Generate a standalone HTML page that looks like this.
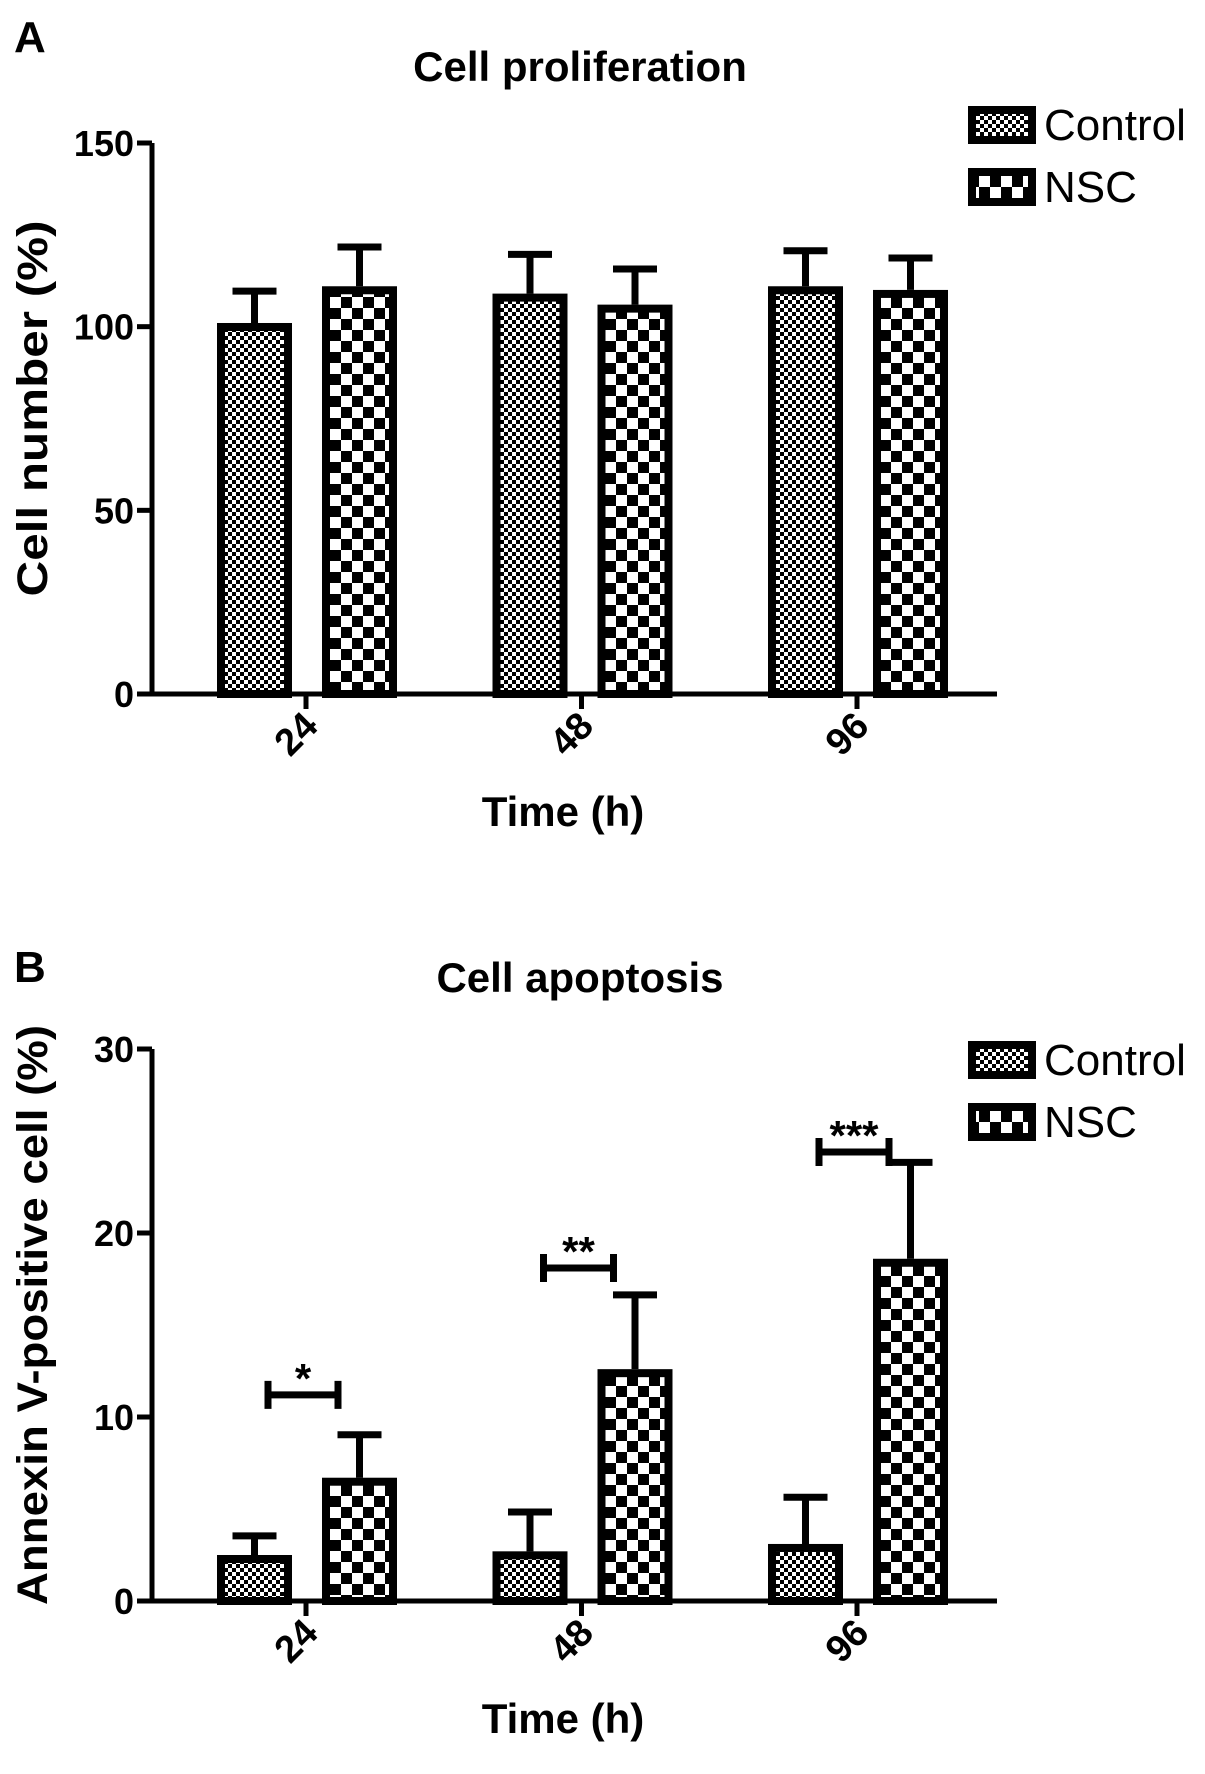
<!DOCTYPE html>
<html><head><meta charset="utf-8"><style>
html,body{margin:0;padding:0;background:#fff;}
svg{display:block;font-family:"Liberation Sans",Arial,sans-serif;}
</style></head><body>
<svg id="fig" width="1205" height="1774" viewBox="0 0 1205 1774" xmlns="http://www.w3.org/2000/svg">
<defs>
<pattern id="pc" width="8" height="8" patternUnits="userSpaceOnUse"><rect width="8" height="8" fill="#fff"/><rect width="4" height="4" fill="#000"/><rect x="4" y="4" width="4" height="4" fill="#000"/></pattern>
<pattern id="pn" width="22" height="22" patternUnits="userSpaceOnUse"><rect width="22" height="22" fill="#fff"/><rect width="11" height="11" fill="#000"/><rect x="11" y="11" width="11" height="11" fill="#000"/></pattern>
</defs>
</svg>
<script>
const categories = ["24","48","96"];
const seriesNames = ["Control","NSC"];
const aControl = [101,109,111];
const aControlErr = [9.5,11.5,10.5];
const aNSC = [111,106,110];
const aNSCErr = [11.5,10.5,9.5];
const aTicks = [0,50,100,150];
const bControl = [2.5,2.7,3.1];
const bControlErr = [1.2,2.3,2.7];
const bNSC = [6.7,12.6,18.6];
const bNSCErr = [2.5,4.2,5.4];
const bTicks = [0,10,20,30];
const bSigHeights = [11.2,18.1,24.4];
const bSigLabels = ["*","**","***"];

const svg = document.getElementById('fig');
const NS = 'http://www.w3.org/2000/svg';
function mk(tag, attrs, parent){const e=document.createElementNS(NS,tag);for(const k in attrs)e.setAttribute(k,attrs[k]);(parent||svg).appendChild(e);return e;}

function panel(o){
  const g = mk('g',{});
  
  
  const x0=152, x1=997;
  const yv = v => o.y0 - (v - 0)/(o.max) * (o.y0 - o.yTop);
  const xc = i => 306 + i*275.5;
  let t=mk('text',{x:14,y:o.letterY,'font-size':44,'font-weight':'bold'},g);t.textContent=o.letter;
  
  
  t=mk('text',{x:580,y:o.titleY,'font-size':42,'font-weight':'bold','text-anchor':'middle'},g);t.textContent=o.title;
  
  
  [[o.c,o.ce,'url(#pc)',-89],[o.n,o.ne,'url(#pn)',16]].forEach((s,si)=>{
    s[0].forEach((v,i)=>{
      const bx=xc(i)+s[3], bw=75, top=yv(v);
      const r=mk('rect',{x:bx+4,y:top+4,width:bw-8,height:o.y0-top-4,fill:s[2],stroke:'#000','stroke-width':8},g);
      
      
      const et=yv(v+s[1][i]), cx=bx+bw/2;
      const l=mk('path',{d:`M${cx} ${top} V${et} M${cx-22} ${et+3} H${cx+22}`,stroke:'#000','stroke-width':7,fill:'none'},g);
      
      
    });
  });
  const ax=mk('path',{d:`M${x0} ${o.yTop} V${o.y0} H${x1}`,stroke:'#000','stroke-width':5,fill:'none'},g);
  
  
  o.ticks.forEach(v=>{
    mk('line',{x1:x0-15,x2:x0,y1:yv(v),y2:yv(v),stroke:'#000','stroke-width':5},g);
    const tt=mk('text',{x:x0-18,y:yv(v)+13,'font-size':36,'font-weight':'bold','text-anchor':'end'},g);tt.textContent=v;
    
    
  });
  categories.forEach((c,i)=>{
    mk('line',{x1:xc(i),x2:xc(i),y1:o.y0,y2:o.y0+15,stroke:'#000','stroke-width':5},g);
    const tt=mk('text',{x:xc(i)+14,y:o.y0+34,'font-size':38,'font-weight':'bold','text-anchor':'end',transform:`rotate(-45 ${xc(i)+14} ${o.y0+34})`},g);tt.textContent=c;
    
    
  });
  t=mk('text',{x:563,y:o.y0+132,'font-size':42,'font-weight':'bold','text-anchor':'middle'},g);t.textContent='Time (h)';
  
  
  const ly=(o.y0+o.yTop)/2 - 10;
  t=mk('text',{x:47,y:ly,'font-size':43,'font-weight':'bold','text-anchor':'middle',transform:`rotate(-90 47 ${ly})`,textLength:o.ylen,lengthAdjust:'spacingAndGlyphs'},g);t.textContent=o.ylabel;
  
  
  ['url(#pc)','url(#pn)'].forEach((f,i)=>{
    const y=o.legY+i*62;
    const r=mk('rect',{x:972,y:y+4,width:60,height:30,fill:f,stroke:'#000','stroke-width':8},g);
    
    
    const tt=mk('text',{x:1044,y:y+34,'font-size':44},g);tt.textContent=seriesNames[i];
    
    
  });
  if(o.sig){
    o.sig.forEach((h,i)=>{
      const y=yv(h), a=xc(i)-38, b=xc(i)+32;
      const p=mk('path',{d:`M${a} ${y} H${b} M${a} ${y-14} V${y+14} M${b} ${y-14} V${y+14}`,stroke:'#000','stroke-width':7,fill:'none'},g);
      
      
      const tt=mk('text',{x:(a+b)/2,y:y-2,'font-size':42,'font-weight':'bold','text-anchor':'middle'},g);tt.textContent=o.sigL[i];
      
      
    });
  }
}
panel({name:'panel-a-cell-proliferation',letter:'A',letterY:52,title:'Cell proliferation',titleY:81,y0:694,yTop:143,max:150,
  c:aControl,ce:aControlErr,n:aNSC,ne:aNSCErr,ticks:aTicks,ylabel:'Cell number (%)',ylen:376,legY:106});
panel({name:'panel-b-cell-apoptosis',letter:'B',letterY:982,title:'Cell apoptosis',titleY:992,y0:1601,yTop:1049,max:30,
  c:bControl,ce:bControlErr,n:bNSC,ne:bNSCErr,ticks:bTicks,ylabel:'Annexin V-positive cell (%)',ylen:580,legY:1041,sig:bSigHeights,sigL:bSigLabels});
</script>
</body></html>
